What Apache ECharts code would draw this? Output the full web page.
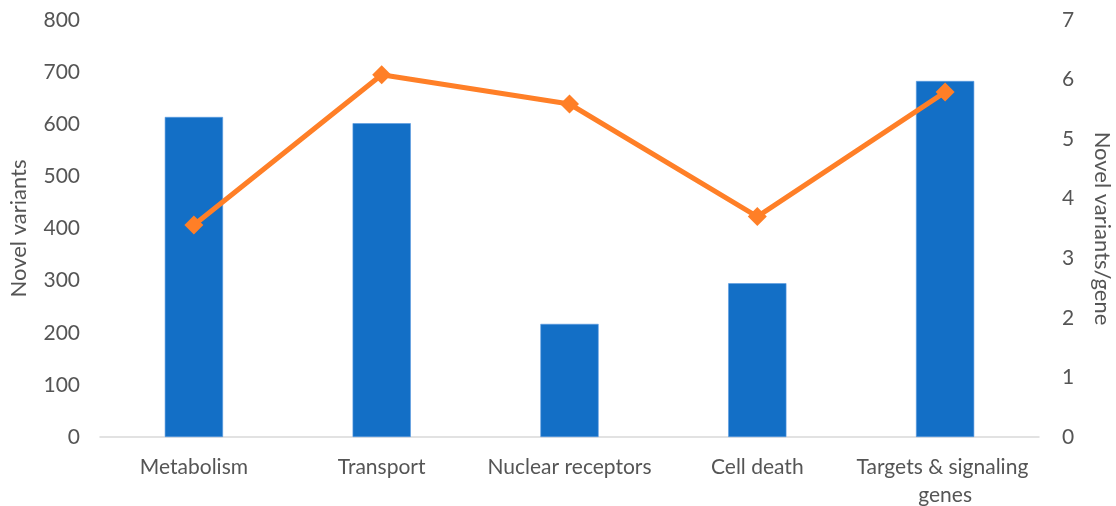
<!DOCTYPE html>
<html>
<head>
<meta charset="utf-8">
<script src="https://cdn.jsdelivr.net/npm/echarts@6/dist/echarts.min.js"></script>
<style>
  html, body { margin: 0; padding: 0; background: #ffffff; }
  #chart { width: 1116px; height: 506px; }
</style>
</head>
<body>
<div id="chart"></div>
<script>
// Gene categories along the x axis
const categories = ['Metabolism', 'Transport', 'Nuclear receptors', 'Cell death', 'Targets & signaling genes'];
// Count of novel variants per category (left axis)
const novelVariants = [614, 602, 217, 295, 683];
// Novel variants per gene (right axis)
const variantsPerGene = [3.56, 6.08, 5.59, 3.70, 5.79];

const textColor = '#555555';
const fontFamily = 'Lato, "Open Sans", sans-serif';

const chart = echarts.init(document.getElementById('chart'), null, { renderer: 'canvas' });
chart.setOption({
  animation: false,
  grid: { left: 100, right: 77, top: 20, bottom: 69, containLabel: false, outerBoundsMode: 'none' },
  xAxis: {
    type: 'category',
    data: categories,
    axisTick: { show: false },
    axisLine: { show: true, lineStyle: { color: '#d9d9d9', width: 1.5 } },
    axisLabel: {
      color: textColor, fontSize: 21, fontFamily: fontFamily,
      margin: 16, lineHeight: 28, interval: 0,
      width: 185, overflow: 'break'
    }
  },
  yAxis: [
    {
      type: 'value', min: 0, max: 800, interval: 100,
      name: 'Novel variants', nameLocation: 'middle', nameGap: 70,
      nameTextStyle: { color: textColor, fontSize: 22, fontFamily: fontFamily },
      axisLine: { show: false }, axisTick: { show: false }, splitLine: { show: false },
      axisLabel: { color: textColor, fontSize: 21, fontFamily: fontFamily, margin: 20 }
    },
    {
      type: 'value', min: 0, max: 7, interval: 1,
      name: 'Novel variants/gene', nameLocation: 'middle', nameGap: 52, nameRotate: -90,
      nameTextStyle: { color: textColor, fontSize: 22, fontFamily: fontFamily },
      axisLine: { show: false }, axisTick: { show: false }, splitLine: { show: false },
      axisLabel: { color: textColor, fontSize: 21, fontFamily: fontFamily, margin: 23 }
    }
  ],
  series: [
    {
      type: 'bar', yAxisIndex: 0, data: novelVariants,
      barWidth: '31%',
      itemStyle: { color: '#136FC6', borderColor: '#5a9be0', borderWidth: 0.6 }
    },
    {
      type: 'line', yAxisIndex: 1, data: variantsPerGene,
      symbol: 'diamond', symbolSize: 19,
      lineStyle: { color: '#FF7F27', width: 5 },
      itemStyle: { color: '#FF7F27' }
    }
  ]
});
</script>
</body>
</html>
